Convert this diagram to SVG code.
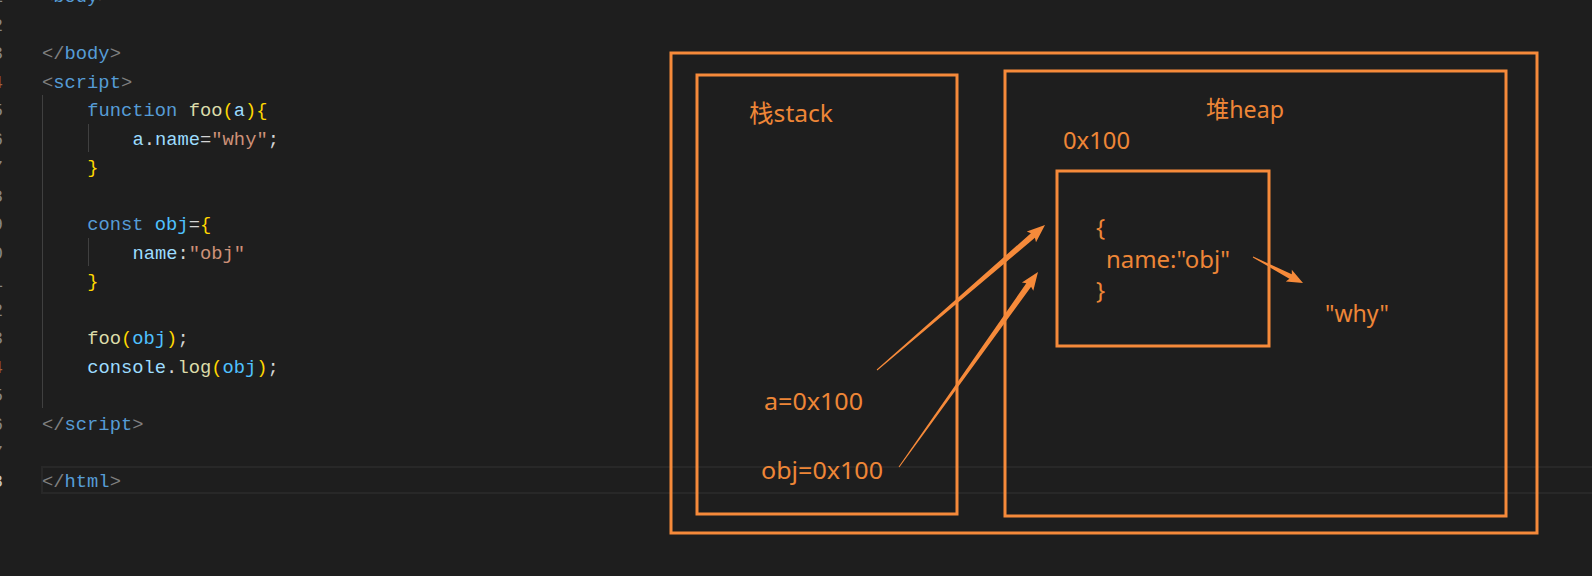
<svg xmlns="http://www.w3.org/2000/svg" width="1592" height="576" viewBox="0 0 1592 576">
<style>
.code{font-family:"Liberation Mono","DejaVu Sans Mono",monospace;font-size:18.8px;}
.ln{font-family:"Liberation Mono","DejaVu Sans Mono",monospace;font-size:18.8px;fill:#858585;}
.br{fill:#808080}.tag{fill:#569CD6}.kw{fill:#569CD6}.fn{fill:#DCDCAA}.p{fill:#FFD700}.v{fill:#9CDCFE}.c{fill:#4FC1FF}.op{fill:#D4D4D4}.s{fill:#CE9178}
.box{fill:none;stroke:#F68A3A;stroke-width:3;}
.lbl{font-family:"Noto Sans","Noto Sans CJK SC",sans-serif;font-size:24px;fill:#EE8637;}
.arrow{fill:#F68A3A;}
.guide{stroke:#404040;stroke-width:1;}
</style>
<rect width="1592" height="576" fill="#1E1E1E"/>
<g id="editor">
  <rect x="42" y="467" width="1560" height="26" fill="none" stroke="#282828" stroke-width="2"/>
  <line class="guide" x1="42.5" y1="95" x2="42.5" y2="408"/>
  <line class="guide" x1="88.5" y1="124" x2="88.5" y2="152"/>
  <line class="guide" x1="88.5" y1="238" x2="88.5" y2="266"/>
  <g class="ln" text-anchor="end">
    <text x="3" y="2.3">1</text>
    <text x="3" y="30.8">2</text>
    <text x="3" y="59.3">3</text>
    <text x="3" y="87.8" fill="#A0603A">4</text>
    <text x="3" y="116.3">5</text>
    <text x="3" y="144.8">6</text>
    <text x="3" y="173.3">7</text>
    <text x="3" y="201.8">8</text>
    <text x="3" y="230.3">9</text>
    <text x="3" y="258.8">0</text>
    <text x="3" y="287.3">1</text>
    <text x="3" y="315.8">2</text>
    <text x="3" y="344.3">3</text>
    <text x="3" y="372.8" fill="#A0603A">4</text>
    <text x="3" y="401.3">5</text>
    <text x="3" y="429.8">6</text>
    <text x="3" y="458.3">7</text>
    <text x="3" y="486.8" fill="#C6C6C6">8</text>
  </g>
  <g class="code" xml:space="preserve">
    <text x="42" y="2.3"><tspan class="br">&lt;</tspan><tspan class="tag">body</tspan><tspan class="br">&gt;</tspan></text>
    <text x="42" y="59.3"><tspan class="br">&lt;/</tspan><tspan class="tag">body</tspan><tspan class="br">&gt;</tspan></text>
    <text x="42" y="87.8"><tspan class="br">&lt;</tspan><tspan class="tag">script</tspan><tspan class="br">&gt;</tspan></text>
    <text x="87.2" y="116.3"><tspan class="kw">function</tspan><tspan class="op"> </tspan><tspan class="fn">foo</tspan><tspan class="p">(</tspan><tspan class="v">a</tspan><tspan class="p">){</tspan></text>
    <text x="132.4" y="144.8"><tspan class="v">a</tspan><tspan class="op">.</tspan><tspan class="v">name</tspan><tspan class="op">=</tspan><tspan class="s">"why"</tspan><tspan class="op">;</tspan></text>
    <text x="87.2" y="173.3"><tspan class="p">}</tspan></text>
    <text x="87.2" y="230.3"><tspan class="kw">const</tspan><tspan class="op"> </tspan><tspan class="c">obj</tspan><tspan class="op">=</tspan><tspan class="p">{</tspan></text>
    <text x="132.4" y="258.8"><tspan class="v">name</tspan><tspan class="op">:</tspan><tspan class="s">"obj"</tspan></text>
    <text x="87.2" y="287.3"><tspan class="p">}</tspan></text>
    <text x="87.2" y="344.3"><tspan class="fn">foo</tspan><tspan class="p">(</tspan><tspan class="c">obj</tspan><tspan class="p">)</tspan><tspan class="op">;</tspan></text>
    <text x="87.2" y="372.8"><tspan class="v">console</tspan><tspan class="op">.</tspan><tspan class="fn">log</tspan><tspan class="p">(</tspan><tspan class="c">obj</tspan><tspan class="p">)</tspan><tspan class="op">;</tspan></text>
    <text x="42" y="429.8"><tspan class="br">&lt;/</tspan><tspan class="tag">script</tspan><tspan class="br">&gt;</tspan></text>
    <text x="42" y="486.8"><tspan class="br">&lt;/</tspan><tspan class="tag">html</tspan><tspan class="br">&gt;</tspan></text>
  </g>
</g>
<g id="memory">
  <rect class="box" x="671" y="53" width="866" height="480"/>
</g>
<g id="stack">
  <rect class="box" x="697" y="75" width="260" height="439"/>
  <text class="lbl" x="749" y="122" textLength="84" lengthAdjust="spacingAndGlyphs">栈stack</text>
</g>
<g id="var-a">
  <text class="lbl" x="764" y="410" textLength="99" lengthAdjust="spacingAndGlyphs">a=0x100</text>
</g>
<g id="var-obj">
  <text class="lbl" x="761" y="479" textLength="122" lengthAdjust="spacingAndGlyphs">obj=0x100</text>
</g>
<g id="heap">
  <rect class="box" x="1005" y="71" width="501" height="445"/>
  <text class="lbl" x="1206" y="118" textLength="78" lengthAdjust="spacingAndGlyphs">堆heap</text>
</g>
<g id="object-0x100">
  <text class="lbl" x="1063" y="149" textLength="67" lengthAdjust="spacingAndGlyphs">0x100</text>
  <rect class="box" x="1057" y="171" width="212" height="175"/>
  <text class="lbl" x="1096" y="236">{</text>
  <text class="lbl" x="1106" y="268" textLength="124" lengthAdjust="spacingAndGlyphs">name:"obj"</text>
  <text class="lbl" x="1096" y="299">}</text>
</g>
<g id="value-why">
  <text class="lbl" x="1325" y="322" textLength="64" lengthAdjust="spacingAndGlyphs">"why"</text>
</g>
<g id="connectors">
  <polygon class="arrow" points="877.3,370.4 1034.9,237.8 1036.0,242.2 1045,225 1026.8,231.6 1030.9,233.2 876.7,369.6"/>
  <polygon class="arrow" points="899.4,467.3 1031.1,286.7 1033.3,290.8 1038,272 1021.9,282.6 1026.3,283.3 898.6,466.7"/>
  <polygon class="arrow" points="1252.8,257.4 1289.4,278.7 1285.8,281.4 1303,283 1291.8,269.8 1291.8,274.3 1253.2,256.6"/>
</g>
</svg>
